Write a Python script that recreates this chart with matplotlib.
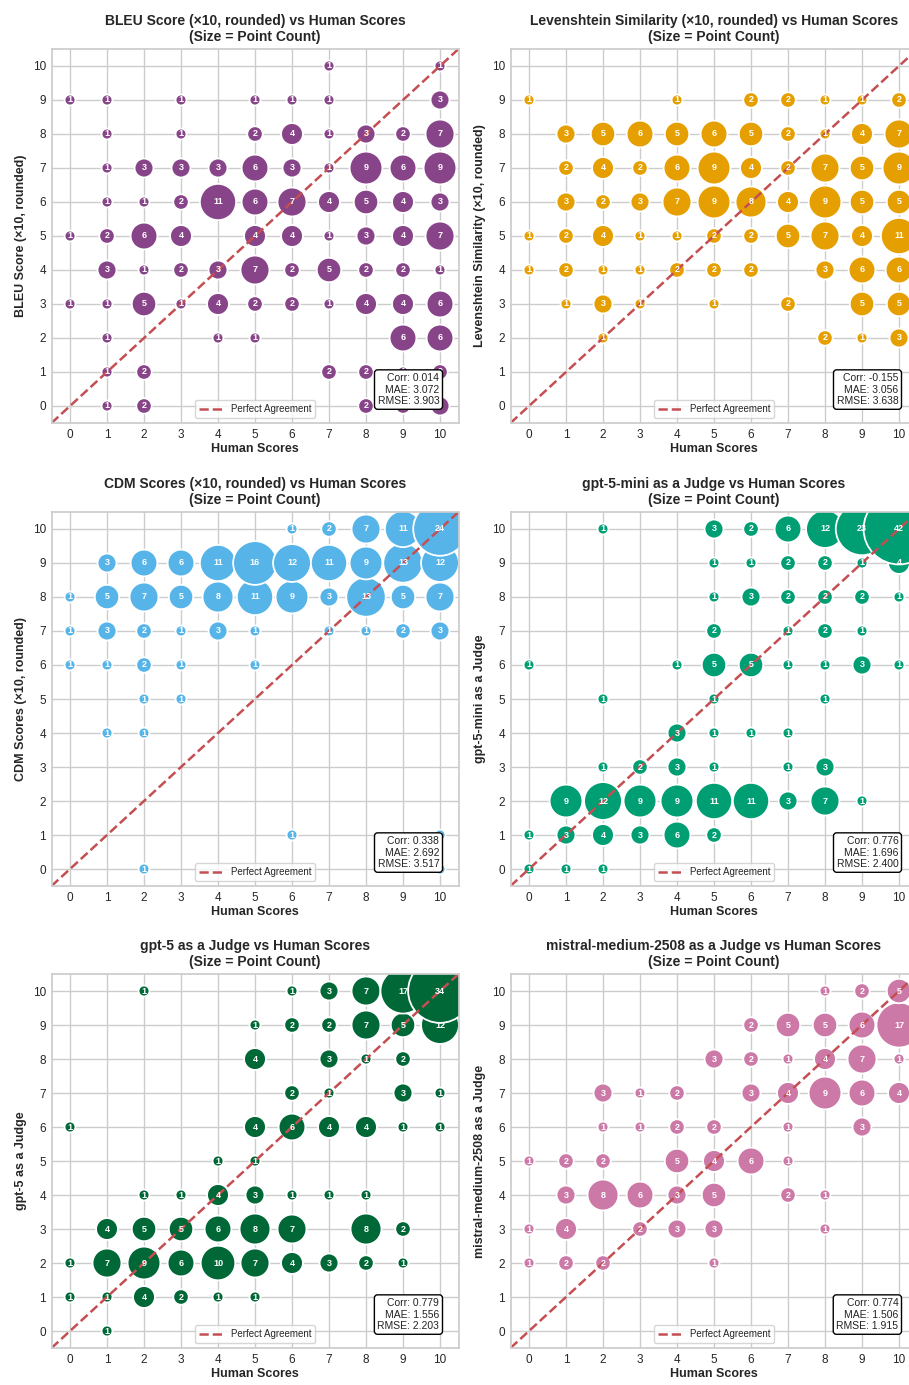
import matplotlib
matplotlib.use("Agg")
import matplotlib.pyplot as plt
import seaborn as sns

# ---------------- data: (human score, metric score, count) ----------------
bleu_points = [
    (7,10,1),(10,10,1),
    (0,9,1),(1,9,1),(3,9,1),(5,9,1),(6,9,1),(7,9,1),(10,9,3),
    (1,8,1),(3,8,1),(5,8,2),(6,8,4),(7,8,1),(8,8,3),(9,8,2),(10,8,7),
    (1,7,1),(2,7,3),(3,7,3),(4,7,3),(5,7,6),(6,7,3),(7,7,1),(8,7,9),(9,7,6),(10,7,9),
    (1,6,1),(2,6,1),(3,6,2),(4,6,11),(5,6,6),(6,6,7),(7,6,4),(8,6,5),(9,6,4),(10,6,3),
    (0,5,1),(1,5,2),(2,5,6),(3,5,4),(5,5,4),(6,5,4),(7,5,1),(8,5,3),(9,5,4),(10,5,7),
    (1,4,3),(2,4,1),(3,4,2),(4,4,3),(5,4,7),(6,4,2),(7,4,5),(8,4,2),(9,4,2),(10,4,1),
    (0,3,1),(1,3,1),(2,3,5),(3,3,1),(4,3,4),(5,3,2),(6,3,2),(7,3,1),(8,3,4),(9,3,4),(10,3,6),
    (1,2,1),(4,2,1),(5,2,1),(9,2,6),(10,2,6),
    (1,1,1),(2,1,2),(7,1,2),(8,1,2),(9,1,1),(10,1,2),
    (1,0,1),(2,0,2),(8,0,2),(9,0,2),(10,0,3),
]
lev_points = [
    (0,9,1),(4,9,1),(6,9,2),(7,9,2),(8,9,1),(9,9,1),(10,9,2),
    (1,8,3),(2,8,5),(3,8,6),(4,8,5),(5,8,6),(6,8,5),(7,8,2),(8,8,1),(9,8,4),(10,8,7),
    (1,7,2),(2,7,4),(3,7,2),(4,7,6),(5,7,9),(6,7,4),(7,7,2),(8,7,7),(9,7,5),(10,7,9),
    (1,6,3),(2,6,2),(3,6,3),(4,6,7),(5,6,9),(6,6,8),(7,6,4),(8,6,9),(9,6,5),(10,6,5),
    (0,5,1),(1,5,2),(2,5,4),(3,5,1),(4,5,1),(5,5,2),(6,5,2),(7,5,5),(8,5,7),(9,5,4),(10,5,11),
    (0,4,1),(1,4,2),(2,4,1),(3,4,1),(4,4,2),(5,4,2),(6,4,2),(8,4,3),(9,4,6),(10,4,6),
    (1,3,1),(2,3,3),(3,3,1),(5,3,1),(7,3,2),(9,3,5),(10,3,5),
    (2,2,1),(8,2,2),(9,2,1),(10,2,3),
]
cdm_points = [
    (6,10,1),(7,10,2),(8,10,7),(9,10,11),(10,10,24),
    (1,9,3),(2,9,6),(3,9,6),(4,9,11),(5,9,16),(6,9,12),(7,9,11),(8,9,9),(9,9,13),(10,9,12),
    (0,8,1),(1,8,5),(2,8,7),(3,8,5),(4,8,8),(5,8,11),(6,8,9),(7,8,3),(8,8,13),(9,8,5),(10,8,7),
    (0,7,1),(1,7,3),(2,7,2),(3,7,1),(4,7,3),(5,7,1),(7,7,1),(8,7,1),(9,7,2),(10,7,3),
    (0,6,1),(1,6,1),(2,6,2),(3,6,1),(5,6,1),
    (2,5,1),(3,5,1),
    (1,4,1),(2,4,1),
    (6,1,1),(10,1,1),
    (2,0,1),(10,0,1),
]
mini_points = [
    (2,10,1),(5,10,3),(6,10,2),(7,10,6),(8,10,12),(9,10,23),(10,10,42),
    (5,9,1),(6,9,1),(7,9,2),(8,9,2),(9,9,1),(10,9,4),
    (5,8,1),(6,8,3),(7,8,2),(8,8,2),(9,8,2),(10,8,1),
    (5,7,2),(7,7,1),(8,7,2),(9,7,1),
    (0,6,1),(4,6,1),(5,6,5),(6,6,5),(7,6,1),(8,6,1),(9,6,3),(10,6,1),
    (2,5,1),(5,5,1),(8,5,1),
    (4,4,3),(5,4,1),(6,4,1),(7,4,1),
    (2,3,1),(3,3,2),(4,3,3),(5,3,1),(7,3,1),(8,3,3),
    (1,2,9),(2,2,12),(3,2,9),(4,2,9),(5,2,11),(6,2,11),(7,2,3),(8,2,7),(9,2,1),
    (0,1,1),(1,1,3),(2,1,4),(3,1,3),(4,1,6),(5,1,2),
    (0,0,1),(1,0,1),(2,0,1),
]
gpt5_points = [
    (2,10,1),(6,10,1),(7,10,3),(8,10,7),(9,10,17),(10,10,34),
    (5,9,1),(6,9,2),(7,9,2),(8,9,7),(9,9,5),(10,9,12),
    (5,8,4),(7,8,3),(8,8,1),(9,8,2),
    (6,7,2),(7,7,1),(9,7,3),(10,7,1),
    (0,6,1),(5,6,4),(6,6,6),(7,6,4),(8,6,4),(9,6,1),(10,6,1),
    (4,5,1),(5,5,1),
    (2,4,1),(3,4,1),(4,4,4),(5,4,3),(6,4,1),(7,4,1),(8,4,1),
    (1,3,4),(2,3,5),(3,3,5),(4,3,6),(5,3,8),(6,3,7),(8,3,8),(9,3,2),
    (0,2,1),(1,2,7),(2,2,9),(3,2,6),(4,2,10),(5,2,7),(6,2,4),(7,2,3),(8,2,2),(9,2,1),
    (0,1,1),(1,1,1),(2,1,4),(3,1,2),(4,1,1),(5,1,1),
    (1,0,1),
]
mistral_points = [
    (8,10,1),(9,10,2),(10,10,5),
    (6,9,2),(7,9,5),(8,9,5),(9,9,6),(10,9,17),
    (5,8,3),(6,8,2),(7,8,1),(8,8,4),(9,8,7),(10,8,1),
    (2,7,3),(3,7,1),(4,7,2),(6,7,3),(7,7,4),(8,7,9),(9,7,6),(10,7,4),
    (2,6,1),(3,6,1),(4,6,2),(5,6,2),(7,6,1),(9,6,3),
    (0,5,1),(1,5,2),(2,5,2),(4,5,5),(5,5,4),(6,5,6),(7,5,1),
    (1,4,3),(2,4,8),(3,4,6),(4,4,3),(5,4,5),(7,4,2),(8,4,1),
    (0,3,1),(1,3,4),(3,3,2),(4,3,3),(5,3,3),(8,3,1),
    (0,2,1),(1,2,2),(2,2,2),(5,2,1),
]

panel_points = [bleu_points, lev_points, cdm_points, mini_points, gpt5_points, mistral_points]
metric_names = ["BLEU Score (×10, rounded)", "Levenshtein Similarity (×10, rounded)",
                "CDM Scores (×10, rounded)", "gpt-5-mini as a Judge",
                "gpt-5 as a Judge", "mistral-medium-2508 as a Judge"]
colors = ["#884488", "#E69F00", "#56B4E9", "#009E73", "#006837", "#CC79A7"]
corr_vals = [0.014, -0.155, 0.338, 0.776, 0.779, 0.774]
mae_vals = [3.072, 3.056, 2.692, 1.696, 1.556, 1.506]
rmse_vals = [3.903, 3.638, 3.517, 2.400, 2.203, 1.915]
ticks = list(range(0, 11))

# ---------------- style ----------------
sns.set_theme(style="whitegrid")
plt.rcParams['font.family'] = ['Liberation Sans', 'DejaVu Sans']

W, H = 909, 1385
fig = plt.figure(figsize=(W / 100, H / 100), dpi=100)

col_left = [51.5, 510.5]
row_bottom = [423, 886, 1348]
ax_w, ax_h = 407, 374

for i, pts in enumerate(panel_points):
    r, c = divmod(i, 2)
    ax = fig.add_axes([col_left[c] / W, 1 - row_bottom[r] / H, ax_w / W, ax_h / H])
    pts_sorted = sorted(pts, key=lambda p: (p[0], p[1]))
    xs = [p[0] for p in pts_sorted]
    ys = [p[1] for p in pts_sorted]
    ns = [p[2] for p in pts_sorted]
    ax.scatter(xs, ys, s=[n * 62 for n in ns], color=colors[i], edgecolors="white",
               linewidths=1.3, alpha=1.0, zorder=1)
    for x, y, n in pts_sorted:
        ax.text(x, y, str(n), ha="center", va="center", color="white",
                fontsize=6.5, fontweight="bold", zorder=3)
    ax.plot([-0.5, 10.5], [-0.5, 10.5], linestyle="--", color="#C44E52", lw=1.8,
            label="Perfect Agreement", zorder=2)
    ax.set_xlim(-0.5, 10.5)
    ax.set_ylim(-0.5, 10.5)
    ax.set_xticks(ticks)
    ax.set_yticks(ticks)
    ax.tick_params(labelsize=8.5, length=0, pad=4)
    ax.set_xlabel("Human Scores", fontsize=9, fontweight="bold", labelpad=2)
    ax.set_ylabel(metric_names[i], fontsize=9, fontweight="bold", labelpad=4)
    ax.set_title(f"{metric_names[i]} vs Human Scores\n(Size = Point Count)",
                 fontsize=10, fontweight="bold", pad=6, linespacing=1.15)
    ax.legend(loc="lower center", fontsize=7, frameon=True, handlelength=2.5,
              borderpad=0.4)
    ax.text(0.953, 0.045,
            f"Corr: {corr_vals[i]:.3f}\nMAE: {mae_vals[i]:.3f}\nRMSE: {rmse_vals[i]:.3f}",
            transform=ax.transAxes, ha="right", va="bottom", fontsize=7.5,
            color="#222222", zorder=5,
            bbox=dict(boxstyle="round,pad=0.3", facecolor="white", edgecolor="black", lw=1))

fig.savefig("out.png", dpi=100)
